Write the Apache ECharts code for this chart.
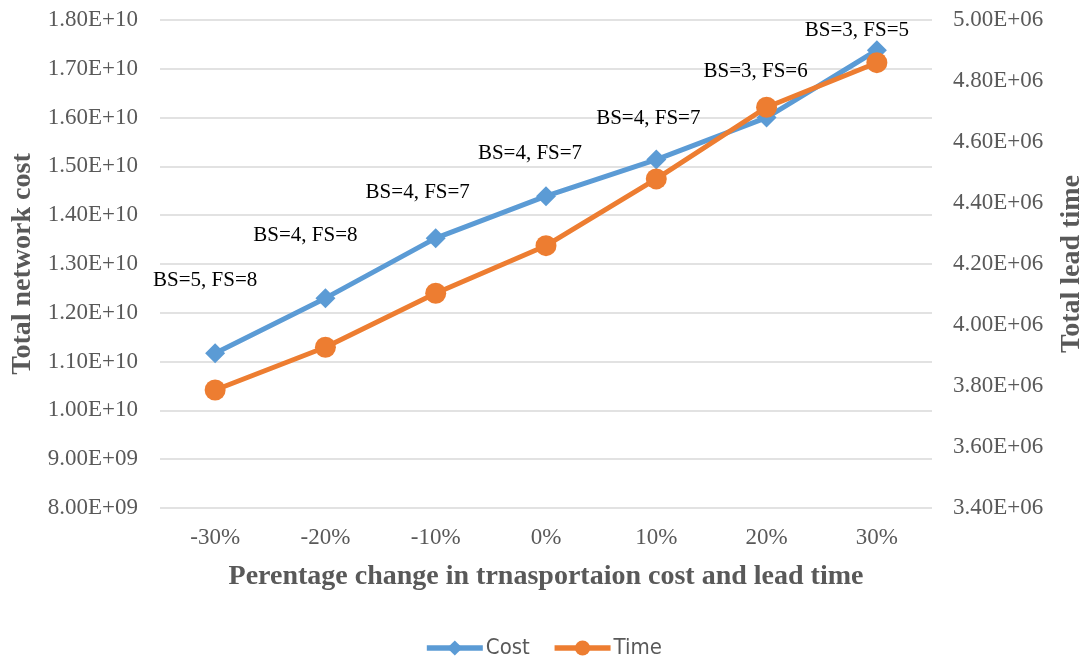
<!DOCTYPE html>
<html><head><meta charset="utf-8">
<script src="https://cdn.jsdelivr.net/npm/echarts@6/dist/echarts.min.js"></script>
<style>html,body{margin:0;padding:0;background:#fff}#c{width:1086px;height:657px}</style>
</head><body><div id="c"></div>
<script>
const categories = ['-30%','-20%','-10%','0%','10%','20%','30%'];
const costValues = [1.117e10, 1.230e10, 1.353e10, 1.439e10, 1.514e10, 1.600e10, 1.738e10];
const timeValues = [3.787e6, 3.927e6, 4.104e6, 4.260e6, 4.479e6, 4.714e6, 4.860e6];
const pointLabels = ['BS=5, FS=8','BS=4, FS=8','BS=4, FS=7','BS=4, FS=7','BS=4, FS=7','BS=3, FS=6','BS=3, FS=5'];
const leftTicks = {min: 8e9, max: 1.8e10, interval: 1e9};
const rightTicks = {min: 3.4e6, max: 5.0e6, interval: 2e5};

// label placement (style, not data)
const labelOffsets = [[-10,-47],[-20,-37],[-18,-20],[-16,-17],[-8,-16],[-11,-21],[-20,6]];

function sci(v){
  const e = Math.floor(Math.log10(Math.abs(v)) + 1e-9);
  const m = v / Math.pow(10, e);
  return m.toFixed(2) + 'E+' + String(e).padStart(2,'0');
}

const serif = 'Liberation Serif';
const gray = '#595959';

const chart = echarts.init(document.getElementById('c'), null, {renderer:'canvas'});
chart.setOption({
  animation:false,
  backgroundColor:'#fff',
  grid:{left:160, right:154, top:20, bottom:149, containLabel:false, outerBoundsMode:'none'},
  legend:{
    top:632, left:'center',
    itemWidth:56, itemHeight:19, itemGap:22,
    lineStyle:{width:5.5},
    textStyle:{fontFamily:'"Liberation Sans Narrow", "DejaVu Sans Condensed", "Open Sans", sans-serif', fontSize:22, color:gray, padding:[0,0,0,-2]},
    data:['Cost','Time']
  },
  xAxis:{
    type:'category', data:categories, boundaryGap:true,
    axisLine:{show:false}, axisTick:{show:false},
    axisLabel:{fontFamily:serif, fontSize:23, color:gray, margin:18},
    name:'Perentage change in trnasportaion cost and lead time',
    nameLocation:'middle', nameGap:55,
    nameTextStyle:{fontFamily:serif, fontSize:28, fontWeight:'bold', color:gray}
  },
  yAxis:[{
    type:'value', min:leftTicks.min, max:leftTicks.max, interval:leftTicks.interval,
    position:'left',
    axisLine:{show:false}, axisTick:{show:false},
    splitLine:{lineStyle:{color:'#D9D9D9', width:1.5}},
    axisLabel:{fontFamily:serif, fontSize:23, color:gray, margin:22, formatter:sci},
    name:'Total network cost', nameLocation:'middle', nameGap:107, nameRotate:90,
    nameTextStyle:{fontFamily:serif, fontSize:28, fontWeight:'bold', color:gray}
  },{
    type:'value', min:rightTicks.min, max:rightTicks.max, interval:rightTicks.interval,
    position:'right',
    axisLine:{show:false}, axisTick:{show:false},
    splitLine:{show:false},
    axisLabel:{fontFamily:serif, fontSize:23, color:gray, margin:21, formatter:sci},
    name:'Total lead time', nameLocation:'middle', nameGap:126, nameRotate:90,
    nameTextStyle:{fontFamily:serif, fontSize:28, fontWeight:'bold', color:gray}
  }],
  series:[{
    name:'Cost', type:'line', yAxisIndex:0,
    data: costValues.map((v,i)=>({value:v, label:{show:true, formatter:pointLabels[i], position:'top', offset:labelOffsets[i]}})),
    symbol:'diamond', symbolSize:20,
    lineStyle:{color:'#5B9BD5', width:5},
    itemStyle:{color:'#5B9BD5'},
    label:{fontFamily:serif, fontSize:21, color:'#000'},
    z:2
  },{
    name:'Time', type:'line', yAxisIndex:1,
    data: timeValues,
    symbol:'circle', symbolSize:21,
    lineStyle:{color:'#ED7D31', width:5},
    itemStyle:{color:'#ED7D31'},
    z:3
  }]
});
</script></body></html>
